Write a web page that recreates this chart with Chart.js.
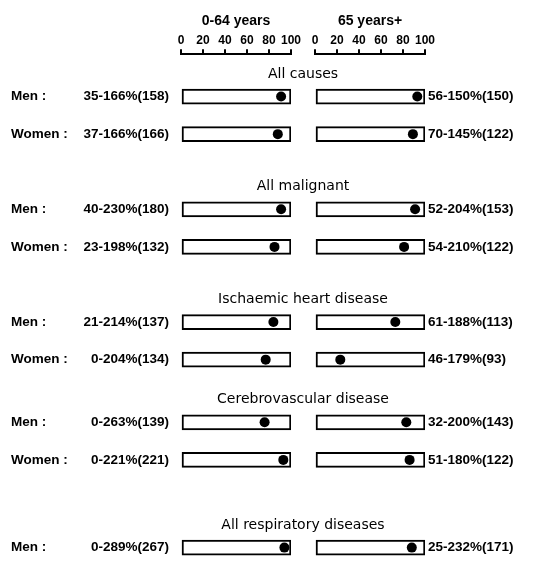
<!DOCTYPE html>
<html>
<head>
<meta charset="utf-8">
<script src="https://cdn.jsdelivr.net/npm/chart.js@4.4.1/dist/chart.umd.min.js"></script>
<style>
  html, body { margin: 0; padding: 0; background: #fff; }
  #wrap { width: 534px; height: 561px; }
</style>
</head>
<body>
<div id="wrap"><canvas id="c" width="534" height="561"></canvas></div>
<script>
// ---------------- data ----------------
const categories = ['All causes', 'All malignant', 'Ischaemic heart disease', 'Cerebrovascular disease', 'All respiratory diseases'];
const rowCategory = [0, 0, 1, 1, 2, 2, 3, 3, 4];
const rowSex = ['Men :', 'Women :', 'Men :', 'Women :', 'Men :', 'Women :', 'Men :', 'Women :', 'Men :'];
const rangeYoung = ['35-166%(158)', '37-166%(166)', '40-230%(180)', '23-198%(132)', '21-214%(137)', '0-204%(134)', '0-263%(139)', '0-221%(221)', '0-289%(267)'];
const rangeOld = ['56-150%(150)', '70-145%(122)', '52-204%(153)', '54-210%(122)', '61-188%(113)', '46-179%(93)', '32-200%(143)', '51-180%(122)', '25-232%(171)'];
const valuesYoung = [91, 88, 91, 85, 84, 77, 76, 93, 94];
const valuesOld = [93, 89, 91, 81, 73, 23, 83, 86, 88];
const axisTicks = [0, 20, 40, 60, 80, 100];
const panelTitles = ['0-64 years', '65 years+'];

// ---------------- layout (not data) ----------------
const groupSlot = [0, 9, 18, 26, 36];   // vertical slot where each cause group starts
const rowStep = 3;                       // slots between Men and Women rows
const titleLift = 1.8;                   // slots between group title and first row
const rowSlot = rowCategory.map((g, i) => groupSlot[g] + (i > 0 && rowCategory[i - 1] === g ? rowStep : 0));

const SANS = '"Liberation Sans", Arial, sans-serif';
const DEJAVU = '"DejaVu Sans", "Liberation Sans", sans-serif';
const LABEL_FONT = 'bold 13.5px ' + SANS;
const TITLE_FONT = '14px ' + DEJAVU;

const boxData = rowSlot.map(s => ({ x: [0, 100], y: s }));
const dotsYoung = valuesYoung.map((v, i) => ({ x: v, y: rowSlot[i] }));
const dotsOld = valuesOld.map((v, i) => ({ x: v, y: rowSlot[i] }));

const textPlugin = {
  id: 'rowText',
  afterDraw(chart) {
    const ctx = chart.ctx;
    const y = chart.scales.y, xL = chart.scales.xL, xR = chart.scales.xR;
    ctx.save();
    ctx.fillStyle = '#000';
    ctx.textBaseline = 'middle';
    ctx.font = LABEL_FONT;
    rowSlot.forEach((s, i) => {
      const py = y.getPixelForValue(s);
      ctx.textAlign = 'left';
      ctx.fillText(rowSex[i], 11, py);
      ctx.textAlign = 'right';
      ctx.fillText(rangeYoung[i], xL.left - 12, py);
      ctx.textAlign = 'left';
      ctx.fillText(rangeOld[i], xR.right + 3, py);
    });
    ctx.font = TITLE_FONT;
    ctx.textAlign = 'center';
    const cx = (xL.left + xR.right) / 2;
    categories.forEach((c, g) => {
      ctx.fillText(c, cx, y.getPixelForValue(groupSlot[g] - titleLift));
    });
    ctx.restore();
  }
};

function panelAxis(title, weight) {
  return {
    type: 'linear', position: 'top', stack: 'panels', stackWeight: 110, weight: weight,
    min: 0, max: 100, offset: false,
    afterBuildTicks: (scale) => { scale.ticks = axisTicks.map(v => ({ value: v })); },
    ticks: { color: '#000', font: { family: SANS, size: 12, weight: 'bold' }, padding: 1, maxRotation: 0, autoSkip: false },
    grid: { drawOnChartArea: false, drawTicks: true, tickLength: 5, lineWidth: 2, color: '#000', tickColor: '#000' },
    border: { display: true, color: '#000', width: 2 },
    title: { display: true, text: title, color: '#000', font: { family: SANS, size: 14, weight: 'bold' }, padding: { top: 4, bottom: 3 } }
  };
}

const barStyle = { type: 'bar', indexAxis: 'y', grouped: false, barThickness: 15, backgroundColor: '#fff', borderColor: '#000', borderWidth: 2, borderSkipped: false, order: 2 };
const dotStyle = { type: 'scatter', pointRadius: 5, pointHoverRadius: 5, backgroundColor: '#000', borderColor: '#000', borderWidth: 0, order: 0 };

new Chart(document.getElementById('c'), {
  data: {
    datasets: [
      Object.assign({ label: panelTitles[0] + ' range', data: boxData, xAxisID: 'xL', yAxisID: 'y' }, barStyle),
      Object.assign({ label: panelTitles[1] + ' range', data: boxData, xAxisID: 'xR', yAxisID: 'y' }, barStyle),
      Object.assign({ label: panelTitles[0], data: dotsYoung, xAxisID: 'xL', yAxisID: 'y' }, dotStyle),
      Object.assign({ label: panelTitles[1], data: dotsOld, xAxisID: 'xR', yAxisID: 'y' }, dotStyle)
    ]
  },
  options: {
    responsive: false,
    devicePixelRatio: 1,
    animation: false,
    layout: { autoPadding: false, padding: { left: 181, right: 109, top: 9, bottom: 0 } },
    plugins: { legend: { display: false }, tooltip: { enabled: false } },
    scales: {
      xL: panelAxis(panelTitles[0], 2),
      xGap: {
        type: 'linear', position: 'top', stack: 'panels', stackWeight: 24, weight: 1, min: 0, max: 1,
        ticks: { display: false }, grid: { display: false }, border: { display: false }, title: { display: false }
      },
      xR: panelAxis(panelTitles[1], 0),
      y: { type: 'linear', reverse: true, display: false, offset: false, bounds: 'data', min: -3.38, max: 37.07, grid: { offset: false } }
    }
  },
  plugins: [textPlugin]
});
</script>
</body>
</html>
